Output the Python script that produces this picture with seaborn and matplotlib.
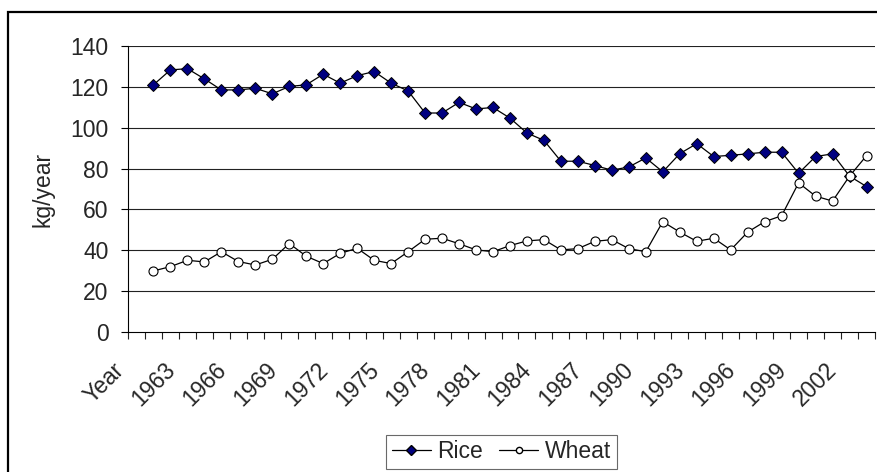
import matplotlib
matplotlib.use("Agg")
import matplotlib.pyplot as plt
from matplotlib.patches import Rectangle
from matplotlib.lines import Line2D
from matplotlib.transforms import ScaledTranslation
import numpy as np
import pandas as pd
import seaborn as sns

# Per-capita consumption, kg/year
years = list(range(1961, 2004))
rice = [121.0, 128.3, 128.9, 123.9, 118.5, 118.5, 119.3, 116.6, 120.2, 121.0,
        126.2, 121.8, 125.5, 127.5, 121.8, 118.0, 107.2, 107.2, 112.4, 109.2,
        109.9, 104.7, 97.4, 93.8, 83.6, 83.6, 81.5, 79.2, 80.8, 85.2,
        78.4, 87.3, 92.2, 85.9, 86.5, 87.2, 88.0, 88.0, 77.7, 85.9,
        87.2, 76.3, 71.2]
wheat = [29.9, 32.0, 35.1, 34.3, 39.3, 34.5, 32.8, 35.6, 43.3, 37.1,
         33.5, 38.5, 41.0, 35.1, 33.5, 39.3, 45.4, 45.9, 43.2, 40.2,
         39.3, 42.3, 44.6, 45.2, 40.2, 40.8, 44.4, 45.2, 40.8, 39.3,
         54.0, 48.9, 44.4, 45.9, 40.2, 48.9, 54.0, 56.9, 73.0, 66.5,
         64.1, 76.3, 86.3]
categories = ["Year"] + [str(y) for y in years]
y_ticks = [0, 20, 40, 60, 80, 100, 120, 140]

df = pd.DataFrame({
    "pos": list(range(1, len(years) + 1)) * 2,
    "value": rice + wheat,
    "crop": ["Rice"] * len(years) + ["Wheat"] * len(years),
})

sns.set_theme(style="white")
plt.rcParams["font.family"] = ["Liberation Sans", "DejaVu Sans"]
FS = 16.5

fig = plt.figure(figsize=(8.77, 4.72), dpi=100)
ax = fig.add_axes([128 / 877, 1 - 332 / 472, (875 - 128) / 877, (332 - 46) / 472])

# outer chart frame
fig.patches.append(Rectangle((8 / 877, -0.1), 1.2, 1 - 12 / 472 + 0.1,
                             transform=fig.transFigure, fill=False,
                             edgecolor="black", linewidth=1.6, zorder=0))

for yv in y_ticks[1:]:
    ax.axhline(yv, color="#222222", linewidth=0.8, zorder=1)

rice_df = df[df["crop"] == "Rice"]
wheat_df = df[df["crop"] == "Wheat"]
sns.lineplot(data=rice_df, x="pos", y="value", ax=ax, color="black",
             linewidth=0.9, marker="D", markersize=6.5,
             markerfacecolor="#000080", markeredgecolor="black",
             markeredgewidth=0.7, legend=False, zorder=3)
sns.lineplot(data=wheat_df, x="pos", y="value", ax=ax, color="black",
             linewidth=0.9, marker="o", markersize=6.5,
             markerfacecolor="white", markeredgecolor="black",
             markeredgewidth=0.8, legend=False, zorder=3)

n_cat = len(categories)
ax.set_xlim(-0.5, n_cat - 0.5)
ax.set_ylim(0, 140)

# ticks at category boundaries, labels on every third category
ax.set_xticks(np.arange(-0.5, n_cat, 1.0))
ax.set_xticklabels([])
label_pos = list(range(0, n_cat, 3))
ax.set_xticks(label_pos, minor=True)
ax.set_xticklabels([categories[i] for i in label_pos], minor=True,
                   rotation=45, ha="right", va="center",
                   rotation_mode="anchor", fontsize=FS)
ax.tick_params(axis="x", which="major", direction="out", length=5,
               width=0.8, color="#222222", bottom=True)
ax.tick_params(axis="x", which="minor", length=0, pad=25, bottom=True)
shift = ScaledTranslation(-16 / 100, 0, fig.dpi_scale_trans)
for lab in ax.get_xticklabels(minor=True):
    lab.set_transform(lab.get_transform() + shift)

ax.set_yticks(y_ticks)
ax.set_yticklabels([str(v) for v in y_ticks], fontsize=FS)
ax.tick_params(axis="y", direction="out", length=5, width=0.8,
               color="black", left=True, pad=9)

ax.set_xlabel("")
ax.set_ylabel("kg/year", fontsize=FS)
ax.yaxis.set_label_coords((54 - 128) / 747, 0.5)

for side in ["top", "right"]:
    ax.spines[side].set_visible(False)
for side in ["left", "bottom"]:
    ax.spines[side].set_visible(True)
    ax.spines[side].set_color("black")
    ax.spines[side].set_linewidth(0.8)

handles = [
    Line2D([], [], color="black", linewidth=0.9, marker="D", markersize=5.5,
           markerfacecolor="#000080", markeredgecolor="black"),
    Line2D([], [], color="black", linewidth=0.9, marker="o", markersize=4.5,
           markerfacecolor="white", markeredgecolor="black"),
]
leg = fig.legend(handles, ["Rice", "Wheat"], loc="center",
                 bbox_to_anchor=(501.5 / 877, 1 - 452 / 472), ncol=2,
                 fontsize=FS, frameon=True, fancybox=False,
                 handlelength=1.7, handletextpad=0.3, columnspacing=0.7,
                 borderpad=0.25, borderaxespad=0)
leg.get_frame().set_edgecolor("#444444")
leg.get_frame().set_linewidth(0.8)

fig.savefig("out.png", dpi=100)
